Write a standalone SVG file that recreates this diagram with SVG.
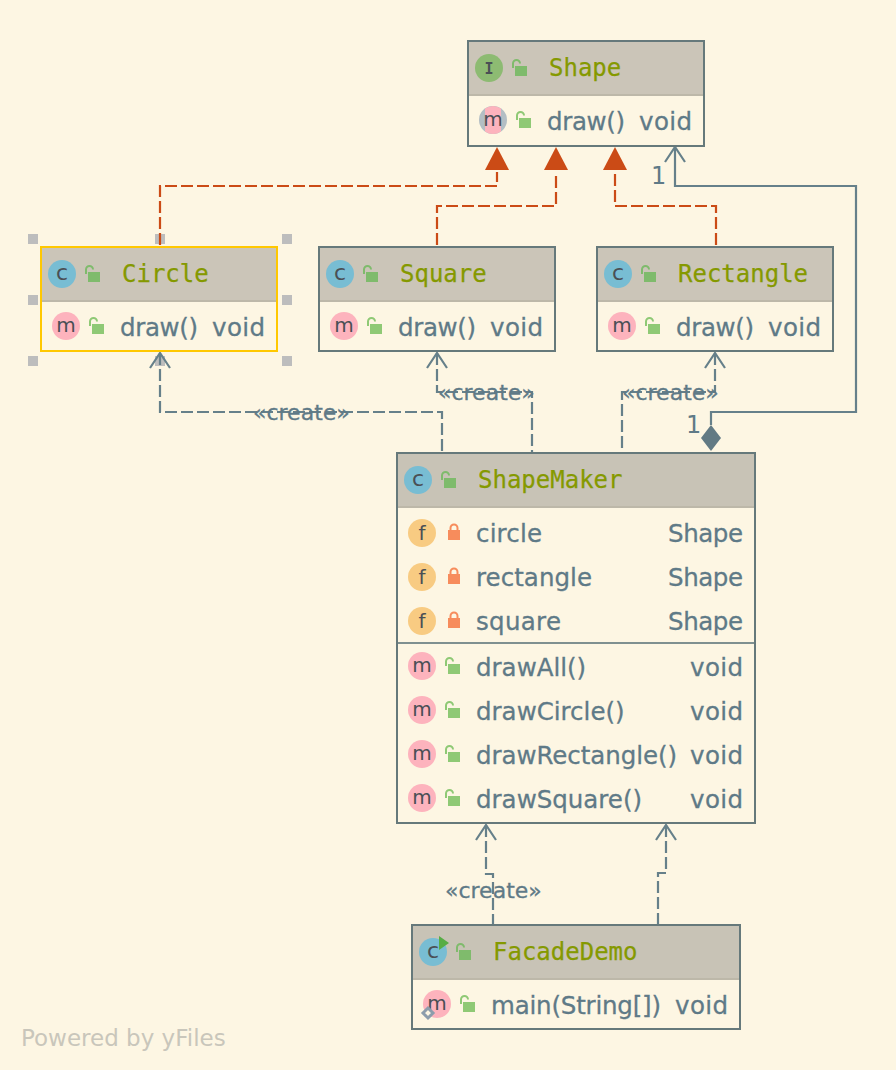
<svg xmlns="http://www.w3.org/2000/svg" width="896" height="1070" viewBox="0 0 896 1070">
<style>
.box{fill:#fdf6e3;stroke:#66797b;stroke-width:2}
.hdr{fill:#cbc5b8}
.hd2{fill:#c8c3b6}
.sep{fill:#bdb8a9}
.title{font-family:"DejaVu Sans Mono","Liberation Mono",monospace;font-size:24px;fill:#859900;stroke:#859900;stroke-width:.25}
.t{font-family:"DejaVu Sans","Liberation Sans",sans-serif;font-size:24.5px;fill:#5f7a87;stroke:#5f7a87;stroke-width:.3}
.lbl{font-family:"DejaVu Sans","Liberation Sans",sans-serif;font-size:22px;fill:#5f7a87;stroke:#5f7a87;stroke-width:.3}
.one{font-family:"DejaVu Sans","Liberation Sans",sans-serif;font-size:24px;fill:#5f7a87}
.ic{font-family:"DejaVu Sans","Liberation Sans",sans-serif;font-size:20px;fill:#4a4f55;text-anchor:middle}
.ic2{font-size:22px}
.icI{font-family:"DejaVu Sans Mono","Liberation Mono",monospace;font-size:15px;font-weight:bold;fill:#4a4f55;text-anchor:middle}
.or{fill:none;stroke:#cb4b16;stroke-width:2.2;stroke-dasharray:12 4;stroke-dashoffset:-2}
.gd{fill:none;stroke:#66808a;stroke-width:2.2;stroke-dasharray:12 4}
.gs{fill:none;stroke:#66808a;stroke-width:2.2}
.arr{fill:none;stroke:#66808a;stroke-width:2.2}
.tri{fill:#cb4b16}
.handle{fill:#bdbdbd}
</style>
<defs>
<g id="lockH"><path d="M-7 -1v-4.500a3.500 3.500 0 0 1 7 0" fill="none" stroke="#7fbb6c" stroke-width="2"/><rect x="-5" y="-3" width="12" height="10" fill="#7fbb6c"/></g>
<g id="lockB"><path d="M-7 -1v-4.500a3.500 3.500 0 0 1 7 0" fill="none" stroke="#8fc975" stroke-width="2"/><rect x="-5" y="-3" width="12" height="10" fill="#8fc975"/></g>
<g id="lockP"><path d="M-3.500 -2v-3a3.500 3.500 0 0 1 7 0v3" fill="none" stroke="#f78c5c" stroke-width="2"/><rect x="-6" y="-3" width="12" height="10" fill="#f78c5c"/></g>
<circle id="cC" r="14" fill="#78bdd3"/>
<circle id="cM" r="14" fill="#fdb3bd"/>
<circle id="cF" r="14" fill="#f8cb82"/>
</defs>
<rect width="896" height="1070" fill="#fdf6e3"/>

<g id="selection-handles">
<rect class="handle" x="28" y="234" width="10" height="10"/><rect class="handle" x="155" y="234" width="10" height="10"/><rect class="handle" x="282" y="234" width="10" height="10"/>
<rect class="handle" x="28" y="295" width="10" height="10"/><rect class="handle" x="282" y="295" width="10" height="10"/>
<rect class="handle" x="28" y="356" width="10" height="10"/><rect class="handle" x="155" y="356" width="10" height="10"/><rect class="handle" x="282" y="356" width="10" height="10"/>
</g>

<g id="connectors">
<path class="or" d="M160 247V186H497V172"/>
<path class="or" d="M437 247V206H556V172"/>
<path class="or" d="M716 247V206H615V172"/>
<path class="tri" d="M497 147L509 170H485Z"/>
<path class="tri" d="M556 147L568 170H544Z"/>
<path class="tri" d="M615 147L627 170H603Z"/>
<path class="gs" d="M711 425V412H856V186H675V147"/>
<path class="arr" d="M665 162L675 147L685 162"/>
<path d="M711 425L721 438L711 451L701 438Z" fill="#627a84"/>
<path class="gd" d="M160 353V412H442V453"/>
<path class="arr" d="M150 368L160 353L170 368"/>
<path class="gd" d="M437 353V392H532V453"/>
<path class="arr" d="M427 368L437 353L447 368"/>
<path class="gd" d="M715 353V392H622V453"/>
<path class="arr" d="M705 368L715 353L725 368"/>
<path class="gd" d="M486 825V874H493V925"/>
<path class="arr" d="M476 840L486 825L496 840"/>
<path class="gd" d="M666 825V873H658V925"/>
<path class="arr" d="M656 840L666 825L676 840"/>
<text class="one" x="651" y="184">1</text>
<text class="one" x="686" y="433">1</text>
<text class="lbl" x="253" y="420">«create»</text>
<text class="lbl" x="438" y="400">«create»</text>
<text class="lbl" x="622" y="400">«create»</text>
<text class="lbl" x="445" y="898">«create»</text>
</g>

<g id="node-shape">
<rect class="box" x="468" y="41" width="236" height="105"/>
<rect class="hdr" x="469" y="42" width="234" height="52"/><rect class="sep" x="469" y="94" width="234" height="2"/>
<circle cx="489" cy="68" r="14" fill="#8dbb72"/><text class="icI" x="489" y="73.500">I</text>
<use href="#lockH" x="520" y="69"/>
<text class="title" x="549" y="76">Shape</text>
<circle cx="493" cy="120" r="14" fill="#b3bec4"/><path d="M485 108.500a14 14 0 0 1 16 0V131.500a14 14 0 0 1 -16 0Z" fill="#fdb3bd"/><text class="ic" x="493" y="126">m</text>
<use href="#lockB" x="524" y="121"/>
<text class="t" x="547" y="130" textLength="78">draw()</text><text class="t" x="639" y="130" textLength="53">void</text>
</g>

<g id="node-circle">
<rect x="41" y="247" width="236" height="104" fill="#fdf6e3" stroke="#ffc800" stroke-width="2"/>
<rect class="hdr" x="42" y="248" width="234" height="52"/><rect class="sep" x="42" y="300" width="234" height="2"/>
<use href="#cC" x="62" y="274"/><text class="ic ic2" x="62" y="280">c</text>
<use href="#lockH" x="93" y="275"/>
<text class="title" x="122" y="282">Circle</text>
<use href="#cM" x="66" y="326"/><text class="ic" x="66" y="332">m</text>
<use href="#lockB" x="97" y="327"/>
<text class="t" x="120" y="336" textLength="78">draw()</text><text class="t" x="212" y="336" textLength="53">void</text>
</g>

<g id="node-square">
<rect class="box" x="319" y="247" width="236" height="104"/>
<rect class="hdr" x="320" y="248" width="234" height="52"/><rect class="sep" x="320" y="300" width="234" height="2"/>
<use href="#cC" x="340" y="274"/><text class="ic ic2" x="340" y="280">c</text>
<use href="#lockH" x="371" y="275"/>
<text class="title" x="400" y="282">Square</text>
<use href="#cM" x="344" y="326"/><text class="ic" x="344" y="332">m</text>
<use href="#lockB" x="375" y="327"/>
<text class="t" x="398" y="336" textLength="78">draw()</text><text class="t" x="490" y="336" textLength="53">void</text>
</g>

<g id="node-rectangle">
<rect class="box" x="597" y="247" width="236" height="104"/>
<rect class="hdr" x="598" y="248" width="234" height="52"/><rect class="sep" x="598" y="300" width="234" height="2"/>
<use href="#cC" x="618" y="274"/><text class="ic ic2" x="618" y="280">c</text>
<use href="#lockH" x="649" y="275"/>
<text class="title" x="678" y="282">Rectangle</text>
<use href="#cM" x="622" y="326"/><text class="ic" x="622" y="332">m</text>
<use href="#lockB" x="653" y="327"/>
<text class="t" x="676" y="336" textLength="78">draw()</text><text class="t" x="768" y="336" textLength="53">void</text>
</g>

<g id="node-shapemaker">
<rect class="box" x="397" y="453" width="358" height="370"/>
<rect class="hd2" x="398" y="454" width="356" height="52"/><rect class="sep" x="398" y="506" width="356" height="2"/>
<use href="#cC" x="418" y="480"/><text class="ic ic2" x="418" y="486">c</text>
<use href="#lockH" x="449" y="481"/>
<text class="title" x="478" y="488">ShapeMaker</text>
<use href="#cF" x="422" y="533"/><text class="ic" x="422" y="540">f</text><use href="#lockP" x="454" y="533"/>
<text class="t" x="476" y="542" textLength="66">circle</text><text class="t" x="668" y="542" textLength="75">Shape</text>
<use href="#cF" x="422" y="577"/><text class="ic" x="422" y="584">f</text><use href="#lockP" x="454" y="577"/>
<text class="t" x="476" y="586" textLength="116">rectangle</text><text class="t" x="668" y="586" textLength="75">Shape</text>
<use href="#cF" x="422" y="621"/><text class="ic" x="422" y="628">f</text><use href="#lockP" x="454" y="621"/>
<text class="t" x="476" y="630" textLength="85">square</text><text class="t" x="668" y="630" textLength="75">Shape</text>
<rect x="398" y="642" width="356" height="2" fill="#7f9090"/>
<use href="#cM" x="422" y="666"/><text class="ic" x="422" y="672">m</text><use href="#lockB" x="453" y="667"/>
<text class="t" x="476" y="676">drawAll()</text><text class="t" x="690" y="676" textLength="53">void</text>
<use href="#cM" x="422" y="710"/><text class="ic" x="422" y="716">m</text><use href="#lockB" x="453" y="711"/>
<text class="t" x="476" y="720">drawCircle()</text><text class="t" x="690" y="720" textLength="53">void</text>
<use href="#cM" x="422" y="754"/><text class="ic" x="422" y="760">m</text><use href="#lockB" x="453" y="755"/>
<text class="t" x="476" y="764" textLength="201">drawRectangle()</text><text class="t" x="690" y="764" textLength="53">void</text>
<use href="#cM" x="422" y="798"/><text class="ic" x="422" y="804">m</text><use href="#lockB" x="453" y="799"/>
<text class="t" x="476" y="808">drawSquare()</text><text class="t" x="690" y="808" textLength="53">void</text>
</g>

<g id="node-facadedemo">
<rect class="box" x="412" y="925" width="328" height="104"/>
<rect class="hd2" x="413" y="926" width="326" height="52"/><rect class="sep" x="413" y="978" width="326" height="2"/>
<use href="#cC" x="433" y="952"/><text class="ic ic2" x="433" y="958">c</text>
<path d="M439 936L449 943L439 950Z" fill="#57ad45"/>
<use href="#lockH" x="464" y="953"/>
<text class="title" x="493" y="960">FacadeDemo</text>
<use href="#cM" x="437" y="1004"/><text class="ic" x="437" y="1010">m</text>
<path d="M428 1008L433 1013L428 1018L423 1013Z" fill="#fdf6e3" stroke="#8d9dac" stroke-width="3"/>
<use href="#lockB" x="468" y="1005"/>
<text class="t" x="491" y="1014" textLength="170">main(String[])</text><text class="t" x="675" y="1014" textLength="53">void</text>
</g>

<text x="21" y="1046" font-family="DejaVu Sans, Liberation Sans, sans-serif" font-size="23" fill="#c9c6bb">Powered by yFiles</text>
</svg>
